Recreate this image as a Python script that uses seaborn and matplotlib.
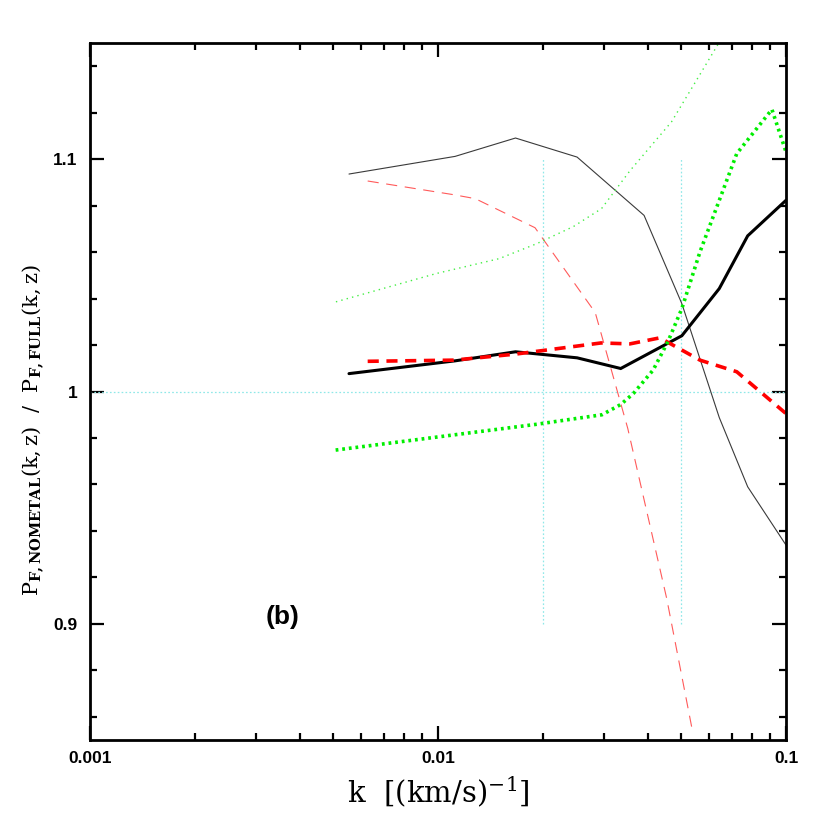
import numpy as np
import pandas as pd
import seaborn as sns
import matplotlib
matplotlib.use("Agg")
import matplotlib.pyplot as plt
from matplotlib.ticker import FixedLocator, FixedFormatter, LogLocator, MultipleLocator, NullFormatter

# thin black solid
k_thin_black = [0.00555, 0.0112, 0.0167, 0.0251, 0.0391, 0.0502, 0.0643, 0.0776, 0.1]
r_thin_black = [1.0936, 1.1012, 1.1091, 1.1009, 1.0758, 1.0378, 0.9888, 0.9590, 0.9339]
# thick black solid
k_thick_black = [0.00555, 0.0112, 0.0167, 0.0251, 0.0335, 0.0502, 0.0643, 0.0776, 0.1]
r_thick_black = [1.0077, 1.0132, 1.0171, 1.0145, 1.0099, 1.0240, 1.0443, 1.0670, 1.0823]
# thin red dashed
k_thin_red = [0.00628, 0.0111, 0.0128, 0.0190, 0.0283, 0.0351, 0.0454, 0.0539]
r_thin_red = [1.0906, 1.0847, 1.0830, 1.0705, 1.0340, 0.9841, 0.9110, 0.8536]
# thick red dashed
k_thick_red = [0.00628, 0.0111, 0.0167, 0.0294, 0.0356, 0.0434, 0.0566, 0.0722, 0.1]
r_thick_red = [1.0130, 1.0135, 1.0161, 1.0209, 1.0205, 1.0231, 1.0135, 1.0085, 0.9905]
# thin green dotted
k_thin_green = [0.00509, 0.0099, 0.0150, 0.0192, 0.0245, 0.0295, 0.0356, 0.0469, 0.0650]
r_thin_green = [1.0386, 1.0508, 1.0572, 1.0636, 1.0710, 1.0787, 1.0950, 1.1161, 1.1515]
# thick green dotted
k_thick_green = [0.00508, 0.0192, 0.0296, 0.0335, 0.0364, 0.0415, 0.0458, 0.0502, 0.0566, 0.0722, 0.0911, 0.1]
r_thick_green = [0.9748, 0.9859, 0.9900, 0.9944, 0.9991, 1.0092, 1.0215, 1.0357, 1.0601, 1.1024, 1.1214, 1.1031]

x_ticks = [0.001, 0.01, 0.1]
x_ticklabels = ["0.001", "0.01", "0.1"]
y_ticks = [0.9, 1.0, 1.1]
y_ticklabels = ["0.9", "1", "1.1"]
k_marks = [0.02, 0.05]

sns.set_style("white")
plt.rcParams["lines.scale_dashes"] = False
plt.rcParams["mathtext.fontset"] = "custom"
plt.rcParams["mathtext.rm"] = "DejaVu Serif"
plt.rcParams["mathtext.bf"] = "DejaVu Serif:bold"

fig = plt.figure(figsize=(8.3, 8.3), dpi=100)
ax = fig.add_axes([0.1084, 0.1084, 0.8386, 0.8398])

# reference lines
ref_col = "#8ee8e8"
ax.axhline(1.0, color=ref_col, lw=0.9, ls=(0, (1.2, 1.6)), zorder=1)
for km in k_marks:
    ax.plot([km, km], [0.9, 1.1], color=ref_col, lw=0.9, ls=(0, (1.2, 1.6)), zorder=1)

def draw(k, r, color, lw, dashes):
    df = pd.DataFrame({"k": k, "r": r})
    sns.lineplot(data=df, x="k", y="r", ax=ax, color=color, lw=lw,
                 linestyle=dashes, sort=False, estimator=None,
                 dash_capstyle="butt", solid_joinstyle="miter")

draw(k_thin_black, r_thin_black, "#3a3a3a", 0.8, "-")
draw(k_thin_red, r_thin_red, "#ff5a5a", 0.8, (0, (8, 5.5)))
draw(k_thin_green, r_thin_green, "#44ee44", 1.0, (0, (1.0, 3.0)))
draw(k_thick_black, r_thick_black, "black", 2.2, "-")
draw(k_thick_red, r_thick_red, "#ff0000", 2.6, (0, (8, 5.5)))
draw(k_thick_green, r_thick_green, "#00ee00", 2.6, (0, (2.0, 2.8)))

ax.set_xscale("log")
ax.set_xlim(0.001, 0.1)
ax.set_ylim(0.85, 1.15)

ax.xaxis.set_major_locator(FixedLocator(x_ticks))
ax.xaxis.set_major_formatter(FixedFormatter(x_ticklabels))
ax.xaxis.set_minor_locator(LogLocator(base=10, subs=np.arange(2, 10)))
ax.xaxis.set_minor_formatter(NullFormatter())
ax.yaxis.set_major_locator(FixedLocator(y_ticks))
ax.yaxis.set_major_formatter(FixedFormatter(y_ticklabels))
ax.yaxis.set_minor_locator(MultipleLocator(0.02))

ax.tick_params(which="both", direction="in", top=True, right=True, bottom=True, left=True,
               width=1.6, color="black", labelcolor="black")
ax.tick_params(which="major", length=10)
ax.tick_params(which="minor", length=5)
ax.tick_params(axis="x", pad=8)
ax.tick_params(axis="y", pad=9)
for lab in ax.get_xticklabels() + ax.get_yticklabels():
    lab.set_fontfamily("Liberation Sans")
    lab.set_fontweight("bold")
    lab.set_fontsize(12.5)

for s in ax.spines.values():
    s.set_linewidth(2)
    s.set_color("black")

ax.set_xlabel(r"$\mathrm{k\ \ [(km/s)^{-1}]}$", fontsize=21, labelpad=6, color="black")
ax.set_ylabel(r"$\mathrm{P}_{\mathbf{F,NOMETAL}}\mathrm{(k,z)\ \ /\ \ P}_{\mathbf{F,FULL}}\mathrm{(k,z)}$",
              fontsize=15, color="black")
ax.yaxis.set_label_coords(-0.062, 0.445)

ax.text(0.277, 0.176, "(b)", transform=ax.transAxes, ha="center", va="center",
        fontsize=19, fontweight="bold", family="Liberation Sans", color="black")

fig.savefig("out.png", dpi=100)
